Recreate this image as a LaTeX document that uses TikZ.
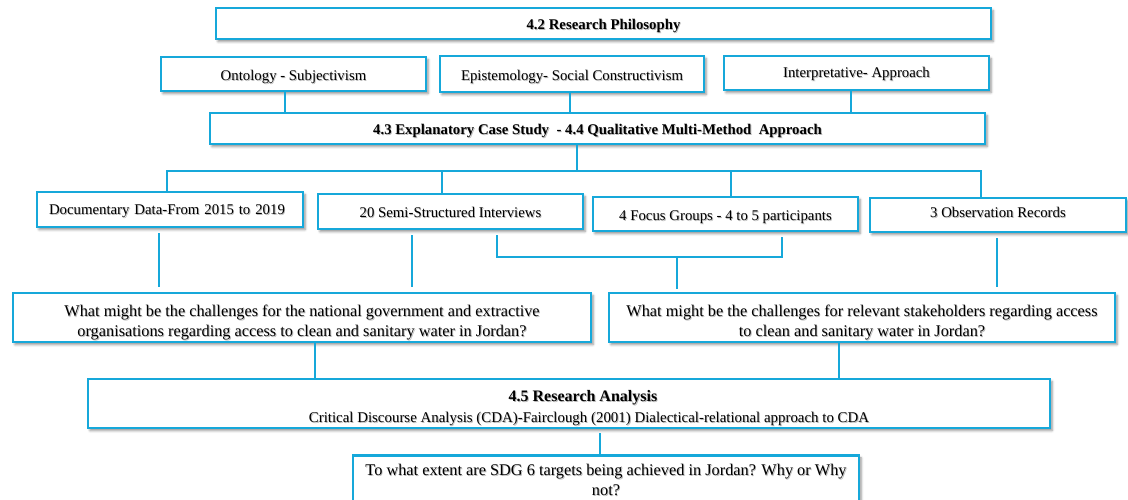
\documentclass[tikz,border=0pt]{standalone}
\usepackage{fontspec}
\setmainfont{Liberation Serif}
\usetikzlibrary{shadows.blur}
\definecolor{frame}{RGB}{22,168,218}
% text with a soft grey shadow below right
\newcommand\shd[1]{\leavevmode\rlap{\kern0.9pt\raisebox{-0.9pt}{\textcolor{black!28}{#1}}}#1}

\begin{document}
\begin{tikzpicture}[x=1pt,y=-1pt,
  box/.style={draw=frame, line width=2.7pt, fill=white, inner sep=0pt, align=center,
    blur shadow={shadow xshift=2pt, shadow yshift=-2.5pt, shadow blur radius=2.5pt, shadow opacity=45}},
  lbl/.style={font=\fontsize{14.8}{17}\selectfont, text height=14pt, text depth=1pt},
  qtext/.style={font=\fontsize{16.3}{20}\selectfont},
  link/.style={draw=frame, line width=2.1pt},
  stub/.style={link, shorten <=5pt, shorten >=5pt},
]
\useasboundingbox (0,0) rectangle (1128,500);
\clip (0,0) rectangle (1128,500);

% philosophy level
\node[box, lbl, minimum width=775pt, minimum height=31pt] (phil) at (603.5,23.5) {\bfseries\shd{4.2 Research Philosophy}};
\node[box, lbl, minimum width=265pt, minimum height=34pt] (onto) at (293.5,74) {\shd{Ontology - Subjectivism}};
\node[box, lbl, minimum width=264pt, minimum height=36pt] (epis) at (572,74) {\shd{Epistemology- Social Constructivism}};
\node[box, lbl, minimum width=265pt, minimum height=34pt, text height=12pt, text depth=2pt] (interp) at (856.5,73) {\shd{Interpretative- Approach}};

% design level
\node[box, lbl, minimum width=775pt, minimum height=31pt] (expl) at (597.5,128.5)
  {\bfseries\shd{4.3 Explanatory Case Study\ \ - 4.4 Qualitative Multi-Method\ \ Approach}};

% data sources
\node[box, lbl, minimum width=266pt, minimum height=35pt, text width=242pt, align=left, text height=12pt, text depth=2pt] (doc) at (170,209.5) {\shd{Documentary Data-From 2015 to 2019}};
\node[box, lbl, minimum width=265pt, minimum height=35pt] (semi) at (450.5,211.5) {\shd{20 Semi-Structured Interviews}};
\node[box, lbl, minimum width=265pt, minimum height=34pt] (focus) at (725.5,214) {\shd{4 Focus Groups - 4 to 5 participants}};
\node[box, lbl, minimum width=256pt, minimum height=34pt, text height=9.5pt, text depth=3.5pt] (obs) at (998,215) {\shd{3 Observation Records}};

% research questions
\node[box, qtext, minimum width=578pt, minimum height=49pt] (q1) at (302,317.5)
  {\rule{0pt}{22pt}\shd{What might be the challenges for the national government and extractive}\\
   \shd{organisations regarding access to clean and sanitary water in Jordan?}};
\node[box, qtext, minimum width=506pt, minimum height=49pt] (q2) at (862,317.5)
  {\rule{0pt}{22pt}\shd{What might be the challenges for relevant stakeholders regarding access}\\
   \shd{to clean and sanitary water in Jordan?}};

% analysis
\node[box, minimum width=962pt, minimum height=49pt, text height=40pt, text depth=2pt] (anal) at (569,403.5)
  {\hspace*{28pt}\fontsize{16}{18}\selectfont\bfseries\shd{4.5 Research Analysis}\\[5pt]
   \hspace*{40pt}\fontsize{14.9}{17}\selectfont\shd{Critical Discourse Analysis (CDA)-Fairclough (2001) Dialectical-relational approach to CDA}};

\node[box, qtext, anchor=north, minimum width=506pt, inner ysep=9pt] (sdg) at (606,454)
  {\shd{To what extent are SDG 6 targets being achieved in Jordan? Why or Why}\\\shd{not?}};

% connector columns
\path (285,0) coordinate (xa) (570,0) coordinate (xb) (851,0) coordinate (xc)
      (577,171) coordinate (bus) (167,171) coordinate (busL) (981,171) coordinate (busR)
      (442,0) coordinate (xd) (731,0) coordinate (xe)
      (159,0) coordinate (xf) (412,0) coordinate (xg) (997,0) coordinate (xh)
      (497,257) coordinate (jL) (782,257) coordinate (jR) (677,257) coordinate (jM)
      (315,0) coordinate (xi) (839,0) coordinate (xj) (600,0) coordinate (xk);

\draw[link] (xa |- onto.south) -- (xa |- expl.north);
\draw[link] (xb |- epis.south) -- (xb |- expl.north);
\draw[link] (xc |- interp.south) -- (xc |- expl.north);

\draw[link] (bus |- expl.south) -- (bus);
\draw[link] (busL |- doc.north) -- (busL) -- (busR) -- (busR |- obs.north);
\draw[link] (xd |- bus) -- (xd |- semi.north);
\draw[link] (xe |- bus) -- (xe |- focus.north);

\draw[stub] (xf |- doc.south) -- (xf |- q1.north);
\draw[stub] (xg |- semi.south) -- (xg |- q1.north);
\draw[stub] (jL |- semi.south) -- (jL) -- (jR) -- (jR |- focus.south);
\draw[link, shorten >=3pt] (jM) -- (jM |- q2.north);
\draw[stub] (xh |- obs.south) -- (xh |- q2.north);

\draw[link] (xi |- q1.south) -- (xi |- anal.north);
\draw[link] (xj |- q2.south) -- (xj |- anal.north);
\draw[link, shorten <=4pt] (xk |- anal.south) -- (xk |- sdg.north);
\end{tikzpicture}
\end{document}
